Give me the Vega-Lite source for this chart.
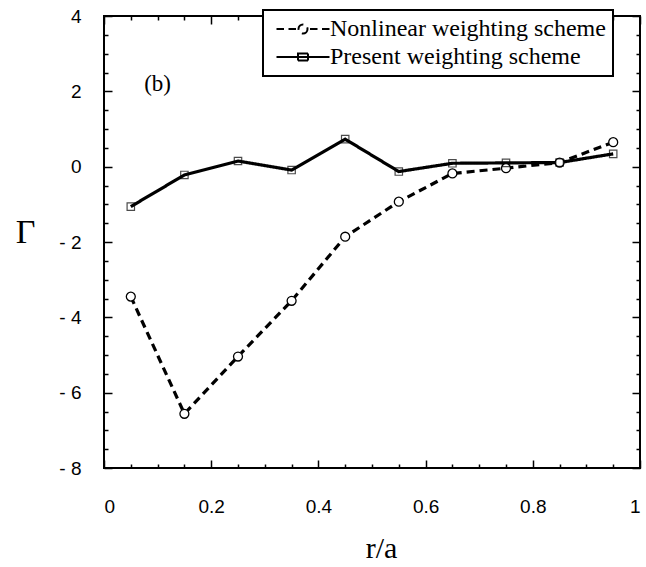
{
  "$schema": "https://vega.github.io/schema/vega-lite/v6.json",
  "autosize": "none",
  "width": 536,
  "height": 452,
  "padding": {"left": 104, "top": 16, "right": 6, "bottom": 99},
  "background": "white",
  "config": {
    "view": {"stroke": "#000", "strokeWidth": 2},
    "axis": {
      "domain": false,
      "grid": false,
      "labelFont": "Liberation Sans",
      "labelFontSize": 19,
      "labelColor": "#000",
      "tickColor": "#000",
      "tickWidth": 1.5,
      "titleColor": "#000"
    }
  },
  "datasets": {
    "main": [
      {"r": 0.05, "g": -3.45, "series": "Nonlinear weighting scheme"},
      {"r": 0.15, "g": -6.56, "series": "Nonlinear weighting scheme"},
      {"r": 0.25, "g": -5.04, "series": "Nonlinear weighting scheme"},
      {"r": 0.35, "g": -3.56, "series": "Nonlinear weighting scheme"},
      {"r": 0.45, "g": -1.86, "series": "Nonlinear weighting scheme"},
      {"r": 0.55, "g": -0.93, "series": "Nonlinear weighting scheme"},
      {"r": 0.65, "g": -0.18, "series": "Nonlinear weighting scheme"},
      {"r": 0.75, "g": -0.04, "series": "Nonlinear weighting scheme"},
      {"r": 0.85, "g": 0.11, "series": "Nonlinear weighting scheme"},
      {"r": 0.95, "g": 0.65, "series": "Nonlinear weighting scheme"},
      {"r": 0.05, "g": -1.06, "series": "Present weighting scheme"},
      {"r": 0.15, "g": -0.22, "series": "Present weighting scheme"},
      {"r": 0.25, "g": 0.15, "series": "Present weighting scheme"},
      {"r": 0.35, "g": -0.09, "series": "Present weighting scheme"},
      {"r": 0.45, "g": 0.73, "series": "Present weighting scheme"},
      {"r": 0.55, "g": -0.13, "series": "Present weighting scheme"},
      {"r": 0.65, "g": 0.09, "series": "Present weighting scheme"},
      {"r": 0.75, "g": 0.1, "series": "Present weighting scheme"},
      {"r": 0.85, "g": 0.11, "series": "Present weighting scheme"},
      {"r": 0.95, "g": 0.34, "series": "Present weighting scheme"}
    ],
    "note": [
      {"r": 0.1, "g": 2.2, "text": "(b)"}
    ]
  },
  "resolve": {"axis": {"x": "independent", "y": "independent"}},
  "layer": [
    {
      "data": {"name": "main"},
      "mark": {"type": "line", "color": "#000", "strokeWidth": 3.2},
      "encoding": {
        "x": {
          "field": "r", "type": "quantitative",
          "scale": {"domain": [0, 1], "nice": false},
          "axis": {
            "orient": "bottom",
            "values": [0, 0.2, 0.4, 0.6, 0.8, 1],
            "format": "~g",
            "tickSize": -8,
            "labelPadding": 37,
            "title": "r/a",
            "titleFont": "Liberation Serif",
            "titleFontSize": 30,
            "titleFontWeight": "normal",
            "titleX": 277,
            "titleY": 89,
            "titleBaseline": "alphabetic"
          }
        },
        "y": {
          "field": "g", "type": "quantitative",
          "scale": {"domain": [-8, 4], "nice": false},
          "axis": {
            "orient": "left",
            "values": [-8, -6, -4, -2, 0, 2, 4],
            "labelExpr": "datum.value < 0 ? '- ' + (-datum.value) : datum.label",
            "tickSize": -8,
            "labelPadding": 31,
            "title": "Γ",
            "titleFont": "Liberation Serif",
            "titleFontSize": 34,
            "titleFontWeight": "normal",
            "titleAngle": 0,
            "titleX": -79,
            "titleY": 226,
            "titleAlign": "center",
            "titleBaseline": "alphabetic"
          }
        },
        "detail": {"field": "series"},
        "strokeDash": {
          "field": "series", "type": "nominal",
          "scale": {"domain": ["Nonlinear weighting scheme", "Present weighting scheme"], "range": [[8, 5], [1, 0]]},
          "legend": {
            "orient": "none",
            "legendX": 159,
            "legendY": -6,
            "title": null,
            "labelFont": "Liberation Serif",
            "labelFontSize": 24,
            "labelColor": "#000",
            "labelLimit": 400,
            "fillColor": "white",
            "strokeColor": "#000",
            "padding": 7,
            "rowPadding": 4,
            "symbolSize": 100,
            "symbolStrokeWidth": 2,
            "symbolStrokeColor": "#000",
            "symbolOffset": 21,
            "labelOffset": 15,
            "encode": {
              "legend": {
                "update": {
                  "strokeWidth": {"value": 2}
                }
              },
              "symbols": {
                "update": {
                  "shape": {"signal": "datum.value == 'Nonlinear weighting scheme' ? 'M-5.3,0H-3.8M-2.9,0H-1.4M0.9,0A0.9,0.9 0 1 1 -0.9,0A0.9,0.9 0 1 1 0.9,0M1.4,0H2.9M3.8,0H5.3' : 'M-5.3,0H5.3M-1,-0.7H1V0.7H-1Z'"},
                  "strokeDash": {"value": [1, 0]},
                  "stroke": {"value": "#000"},
                  "strokeWidth": {"value": 2}
                }
              }
            }
          }
        }
      }
    },
    {
      "data": {"name": "main"},
      "transform": [{"filter": "datum.series == 'Nonlinear weighting scheme'"}],
      "mark": {"type": "point", "shape": "circle", "size": 80, "filled": false, "fill": "white", "fillOpacity": 1, "stroke": "#000", "strokeWidth": 1.3, "opacity": 1},
      "encoding": {
        "x": {
          "field": "r", "type": "quantitative",
          "axis": {"orient": "bottom", "values": [0.05, 0.1, 0.15, 0.25, 0.3, 0.35, 0.45, 0.5, 0.55, 0.65, 0.7, 0.75, 0.85, 0.9, 0.95], "tickSize": -4, "labels": false, "title": null}
        },
        "y": {
          "field": "g", "type": "quantitative",
          "axis": {"orient": "left", "values": [-7.5, -7, -6.5, -5.5, -5, -4.5, -3.5, -3, -2.5, -1.5, -1, -0.5, 0.5, 1, 1.5, 2.5, 3, 3.5], "tickSize": -4, "labels": false, "title": null}
        }
      }
    },
    {
      "data": {"name": "main"},
      "transform": [{"filter": "datum.series == 'Present weighting scheme'"}],
      "mark": {"type": "point", "shape": "square", "size": 55, "filled": false, "stroke": "#000", "strokeWidth": 1.2},
      "encoding": {
        "x": {
          "field": "r", "type": "quantitative",
          "axis": {"orient": "top", "values": [0, 0.2, 0.4, 0.6, 0.8, 1], "tickSize": -8, "labels": false, "title": null}
        },
        "y": {
          "field": "g", "type": "quantitative",
          "axis": {"orient": "right", "values": [-8, -6, -4, -2, 0, 2, 4], "tickSize": -8, "labels": false, "title": null}
        }
      }
    },
    {
      "data": {"name": "note"},
      "mark": {"type": "text", "font": "Liberation Serif", "fontSize": 23, "color": "#000", "align": "center", "baseline": "middle"},
      "encoding": {
        "x": {
          "field": "r", "type": "quantitative",
          "axis": {"orient": "top", "values": [0.05, 0.1, 0.15, 0.25, 0.3, 0.35, 0.45, 0.5, 0.55, 0.65, 0.7, 0.75, 0.85, 0.9, 0.95], "tickSize": -4, "labels": false, "title": null}
        },
        "y": {
          "field": "g", "type": "quantitative",
          "axis": {"orient": "right", "values": [-7.5, -7, -6.5, -5.5, -5, -4.5, -3.5, -3, -2.5, -1.5, -1, -0.5, 0.5, 1, 1.5, 2.5, 3, 3.5], "tickSize": -4, "labels": false, "title": null}
        },
        "text": {"field": "text"}
      }
    }
  ]
}
